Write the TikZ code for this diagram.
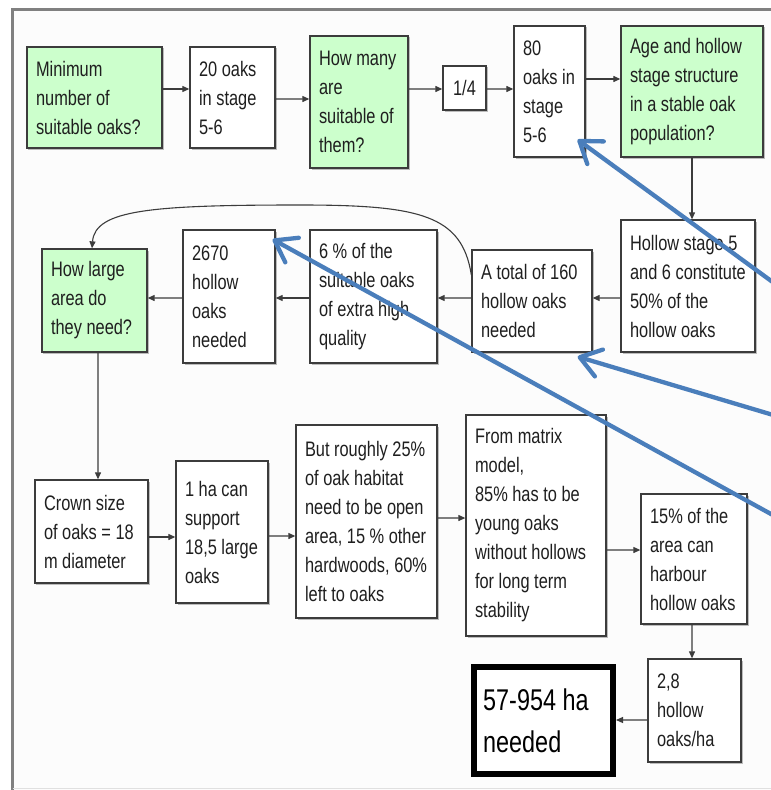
\documentclass[tikz,border=0pt]{standalone}
\usepackage{fontspec}
\setmainfont[FakeStretch=0.78]{Liberation Sans}
\usetikzlibrary{arrows.meta,shadows}
\definecolor{boxgreen}{RGB}{204,255,204}
\definecolor{callblue}{RGB}{74,126,187}
\definecolor{framegray}{RGB}{128,128,128}
\definecolor{bggray}{RGB}{252,252,252}
\definecolor{edgegray}{RGB}{60,60,60}
\newcommand{\flowitem}[7]{%
  \node[#6, minimum width=#4bp, minimum height=#5bp] (#1) at (#2,#3) {};
  \node[txt] (#1-t) at ([xshift=9.5bp]#1.west) {#7};
}
\begin{document}
\begin{tikzpicture}[x=1bp,y=-1bp,
  flowbox/.style={draw=edgegray, line width=1.3bp, fill=white,
    drop shadow={shadow xshift=1.5bp,shadow yshift=-1.5bp,fill=black,opacity=0.25}, inner sep=0pt},
  greenbox/.style={flowbox, fill=boxgreen},
  resultbox/.style={draw=black, line width=6bp, fill=white, inner sep=0pt},
  txt/.style={inner sep=0pt, align=left, anchor=west, font=\fontsize{21bp}{29bp}\selectfont, text=black!88},
  bigtxt/.style={txt, font=\fontsize{30bp}{42bp}\selectfont, text=black},
  arr/.style={draw=edgegray, line width=1.1bp, -{Triangle[length=7bp,width=6bp]}},
  callout/.style={draw=callblue, line width=4.3bp, line cap=round,
    -{Straight Barb[length=20bp,width=28bp,round]}},
]
\useasboundingbox (0,0) rectangle (771,790);
\fill[white] (0,0) rectangle (771,790);
\fill[bggray] (12.5,9.5) rectangle (771,790);
\draw[framegray, line width=3bp] (12.5,790) -- (12.5,9.5) -- (771,9.5);
\draw[black!12, line width=1bp] (12.5,788.5) -- (771,788.5);

% top row
\flowitem{min}{94.5}{97.5}{135}{101}{greenbox}{Minimum\\number of\\suitable oaks?}
\flowitem{twenty}{232.5}{97.5}{85}{101}{flowbox}{20 oaks\\in stage\\5-6}
\flowitem{howmany}{359}{102}{98}{132}{greenbox}{How many\\are\\suitable of\\them?}
\node[flowbox, minimum width=43bp, minimum height=44bp,
  font=\fontsize{21bp}{29bp}\selectfont, text=black!88] (quarter) at (464.5,88) {1/4};
\flowitem{eighty}{549.5}{91.5}{71}{131}{flowbox}{80\\oaks in\\stage\\5-6}
\flowitem{age}{692}{91.5}{142}{131}{greenbox}{Age and hollow\\stage structure\\in a stable oak\\population?}

% second row
\flowitem{hollow}{688}{286}{134}{132}{flowbox}{Hollow stage 5\\and 6 constitute\\50\% of the\\hollow oaks}
\flowitem{total}{532}{301}{120}{102}{flowbox}{A total of 160\\hollow oaks\\needed}
\flowitem{six}{373.5}{296.5}{127}{133}{flowbox}{6 \% of the\\suitable oaks\\of extra high\\quality}
\flowitem{n2670}{229}{296.5}{92}{133}{flowbox}{2670\\hollow\\oaks\\needed}
\flowitem{large}{94.5}{300.5}{105}{103}{greenbox}{How large\\area do\\they need?}

% third row
\flowitem{crown}{91.5}{531.5}{113}{103}{flowbox}{Crown size\\of oaks = 18\\m diameter}
\flowitem{oneha}{222}{532}{92}{142}{flowbox}{1 ha can\\support\\18,5 large\\oaks}
\flowitem{but}{366.5}{521.5}{141}{193}{flowbox}{But roughly 25\%\\of oak habitat\\need to be open\\area, 15 \% other\\hardwoods, 60\%\\left to oaks}
\flowitem{matrix}{536}{525.5}{140}{221}{flowbox}{From matrix\\model,\\85\% has to be\\young oaks\\without hollows\\for long term\\stability}
\flowitem{fifteen}{694}{559}{106}{130}{flowbox}{15\% of the\\area can\\harbour\\hollow oaks}
\flowitem{twoeight}{694.5}{710.5}{93}{103}{flowbox}{2,8\\hollow\\oaks/ha}
\node[resultbox, minimum width=139bp, minimum height=107bp] (result) at (543.5,720.5) {};
\node[bigtxt] (result-t) at ([xshift=12bp]result.west) {57-954 ha\\needed};

% connectors
\draw[arr] ([yshift=8.5bp]min.east) -- ([yshift=8.5bp]twenty.west);
\draw[arr] ([yshift=-1.5bp]twenty.east) -- ([yshift=3bp]howmany.west);
\draw[arr] ([yshift=13bp]howmany.east) -- ([yshift=-1bp]quarter.west);
\draw[arr] ([yshift=-1bp]quarter.east) -- ([yshift=2.5bp]eighty.west);
\draw[arr] ([yshift=12.5bp]eighty.east) -- ([yshift=12.5bp]age.west);
\draw[arr] (age.south) -- (age.south |- hollow.north);
\draw[arr] ([yshift=-12bp]hollow.west) -- ([yshift=3bp]total.east);
\draw[arr] ([yshift=3bp]total.west) -- ([yshift=-1.5bp]six.east);
\draw[arr] ([yshift=-1.5bp]six.west) -- ([yshift=-1.5bp]n2670.east);
\draw[arr] ([yshift=-1.5bp]n2670.west) -- ([yshift=2.5bp]large.east);
\coordinate (curvetop) at (300,205);
\draw[arr] ([yshift=26bp]total.west) .. controls (462,215) and (420,205) .. (curvetop)
  .. controls (150,205) and (95,210) .. ([xshift=-2.5bp]large.north);
\draw[arr] ([xshift=3.5bp]large.south) -- ([xshift=6.5bp]crown.north);
\draw[arr] ([yshift=-5.5bp]crown.east) -- ([yshift=-5bp]oneha.west);
\draw[arr] ([yshift=-4bp]oneha.east) -- ([yshift=-14.5bp]but.west);
\draw[arr] ([yshift=3.5bp]but.east) -- ([yshift=7.5bp]matrix.west);
\draw[arr] ([yshift=-24.5bp]matrix.east) -- ([yshift=9bp]fifteen.west);
\draw[arr] ([xshift=-2bp]fifteen.south) -- ([xshift=-2.5bp]twoeight.north);
\draw[arr] ([yshift=-9.5bp]twoeight.west) -- ([yshift=0.5bp]result.east);

% blue callout arrows coming from outside the picture
\begin{scope}
\clip (0,0) rectangle (771,790);
\coordinate (cb1) at (800,302);
\coordinate (cb2) at (800,423);
\coordinate (cb3) at (800,530);
\draw[callout] (cb1) -- ([xshift=-8bp,yshift=18bp]eighty.south east);
\draw[callout] (cb2) -- ([xshift=-15bp,yshift=-4bp]total.south east);
\draw[callout] (cb3) -- ([xshift=-3bp,yshift=-10bp]n2670.north east);
\end{scope}
\end{tikzpicture}
\end{document}
